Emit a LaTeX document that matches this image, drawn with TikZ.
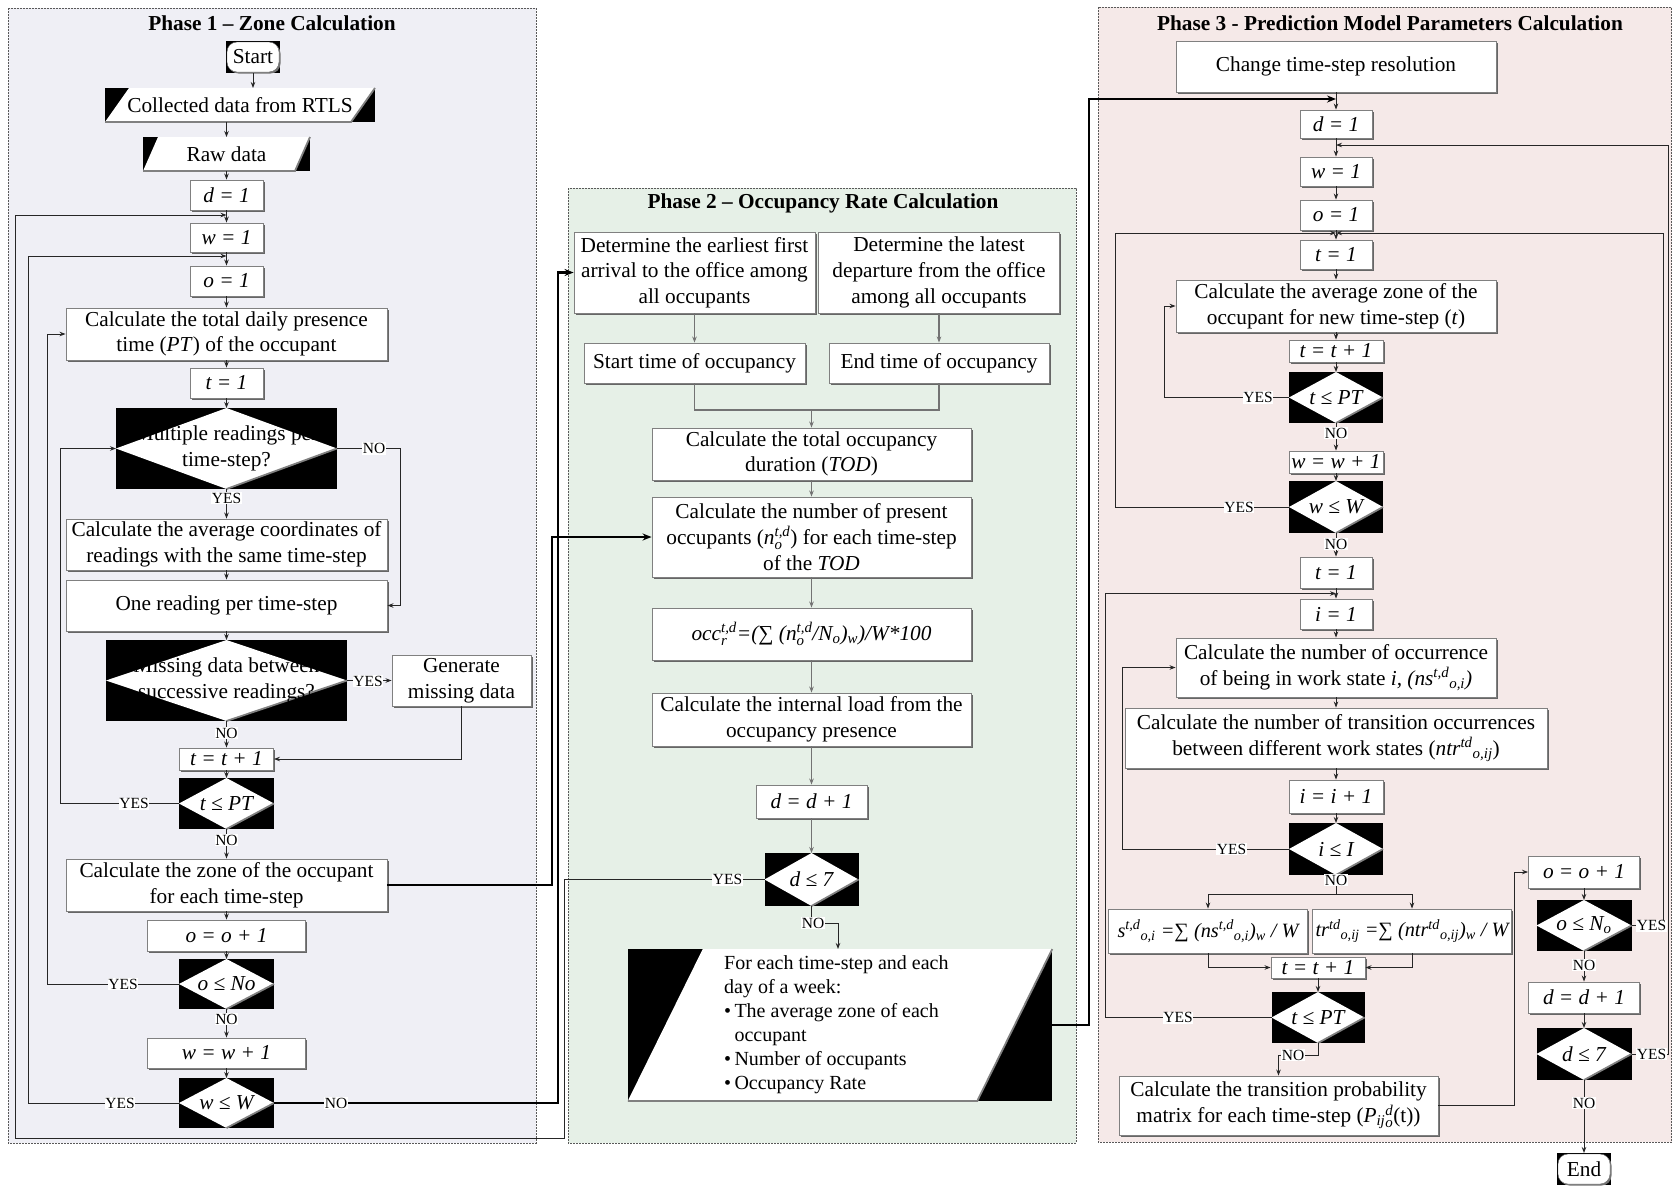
\documentclass[tikz,border=0pt]{standalone}
\usepackage{amsmath}
\usepackage{fontspec}
\setmainfont{Liberation Serif}
\usetikzlibrary{arrows.meta,shadows}

\definecolor{bgzone}{HTML}{EFEFF5}
\definecolor{bgrate}{HTML}{E6F0E7}
\definecolor{bgmodel}{HTML}{F5E9E8}

\newcommand{\bodyfont}{\fontsize{21.3}{25.6}\selectfont}
\newcommand{\lblfont}{\fontsize{15.5}{17}\selectfont}
% stacked and staggered index pairs
\newcommand{\supsub}[2]{\ensuremath{^{\textit{#1}}_{\textit{#2}}}}
\newcommand{\supthen}[2]{\ensuremath{^{\textit{#1}}{}_{\textit{#2}}}}

% decision: black frame, white diamond, text on top
\newcommand{\decide}[6]{%
  \node[blk, sz={#4}{#5}] (#1) at (#2,#3) {};
  \fill[white] (#1.west) -- (#1.north) -- (#1.east) -- (#1.south) -- cycle;
  \draw[black!50, line width=1.8pt] (#1.east) -- (#1.south);
  \node[dtext] (#1-t) at (#1.center) {#6};
}
% data (parallelogram) on a black frame
\newcommand{\slantbox}[7]{%
  \node[blk, sz={#4}{#5}] (#1) at (#2,#3) {};
  \fill[white] ([xshift=#6pt]#1.north west) -- (#1.north east) -- ([xshift=-#6pt]#1.south east) -- (#1.south west) -- cycle;
  \draw[black!50, line width=1.8pt] (#1.north east) -- ([xshift=-#6pt]#1.south east) -- (#1.south west);
  \node[dtext] (#1-t) at (#1.center) {#7};
}
% terminal: rounded box on a black frame
\newcommand{\termnode}[4]{%
  \node[blk, sz={54}{32}] (#1) at (#2,#3) {};
  \node[draw=black!60, fill=white, rounded corners=10pt, sz={52}{30}, font=\bodyfont, inner sep=0pt,
        drop shadow={shadow xshift=1.5pt,shadow yshift=-1.5pt,fill=black!55,opacity=1}] (#1-t) at (#1.center) {#4};
}

\begin{document}
\begin{tikzpicture}[x=1pt,y=-1pt,
  sz/.style 2 args={minimum width=#1pt, minimum height=#2pt},
  blk/.style={fill=black, inner sep=0pt, outer sep=0pt},
  dtext/.style={font=\bodyfont, align=center, inner sep=0pt},
  pbox/.style={draw=black!50, line width=0.9pt, fill=white, align=center, inner xsep=2pt, inner ysep=0pt,
               font=\bodyfont, drop shadow={shadow xshift=1.6pt, shadow yshift=-1.6pt, fill=black!60, opacity=1}},
  ln/.style={line width=0.9pt, draw=black!85},
  arr/.style={ln, -{Stealth[length=6pt, width=4.5pt]}},
  gln/.style={line width=1.1pt, draw=black!55},
  garr/.style={gln, -{Stealth[length=6pt, width=4.5pt]}},
  fat/.style={line width=2.2pt, draw=black, -{Stealth[length=9pt, width=7pt]}},
  lbl/.style={fill=white, inner sep=0.8pt, font=\lblfont},
  phase/.style={draw=black!65, dash pattern=on 2pt off 1pt, line width=0.8pt},
  ttl/.style={font=\bfseries\bodyfont}]

\useasboundingbox (0,0) rectangle (1674,1186);
\fill[white] (0,0) rectangle (1674,1186);

% phase panels
\fill[bgzone] (8,8) rectangle (536,1143);   \draw[phase] (8,8) rectangle (536,1143);
\fill[bgrate] (568,188) rectangle (1076,1143); \draw[phase] (568,188) rectangle (1076,1143);
\fill[bgmodel] (1098,7) rectangle (1671.5,1142); \draw[phase] (1098,7) rectangle (1671.5,1142);

\node[ttl] (title1) at (272,23) {Phase 1 – Zone Calculation};
\node[ttl] (title2) at (823,203) {Phase 2 – Occupancy Rate Calculation};
\node[ttl] (title3) at (1390,23) {Phase 3 - Prediction Model Parameters Calculation};

% ---------------- Phase 1 ----------------
\termnode{start}{253}{57}{Start}
\slantbox{coll}{240}{105}{270}{34}{24}{Collected data from RTLS}
\slantbox{raw}{226.5}{154}{167}{34}{15}{Raw data}
\node[pbox, sz={73}{30}] (d1) at (226.5,195) {\itshape d = 1};
\node[pbox, sz={73}{29}] (w1) at (226.5,237.5) {\itshape w = 1};
\node[pbox, sz={73}{30}] (o1) at (226.5,281) {\itshape o = 1};
\node[pbox, sz={321}{52}] (pt) at (226.5,334) {Calculate the total daily presence\\time (\textit{PT}) of the occupant};
\node[pbox, sz={73}{30}] (t1b) at (226.5,383) {\itshape t = 1};
\decide{q1}{226.5}{448.5}{221}{81}{Multiple readings per\\time-step?}
\node[pbox, sz={321}{51}] (avg) at (226.5,544.5) {Calculate the average coordinates of\\readings with the same time-step};
\node[pbox, sz={321}{51}] (one) at (226.5,605.5) {One reading per time-step};
\decide{q2}{226.5}{680.5}{241}{81}{Missing data between\\successive readings?}
\node[pbox, sz={139}{51}] (gen) at (461.5,680.5) {Generate\\missing data};
\node[pbox, sz={94}{22}] (tt1) at (226.5,759) {\itshape t = t + 1};
\decide{tp1}{226.5}{803.5}{95}{51}{\itshape t ≤ PT}
\node[pbox, sz={321}{52}] (zone) at (226.5,885) {Calculate the zone of the occupant\\for each time-step};
\node[pbox, sz={158}{31}] (oo1) at (226.5,935.5) {\itshape o = o + 1};
\decide{on1}{226.5}{984}{95}{50}{\itshape o ≤ No}
\node[pbox, sz={158}{30}] (ww1) at (226.5,1053) {\itshape w = w + 1};
\decide{wW1}{226.5}{1103}{95}{50}{\itshape w ≤ W}

% ---------------- Phase 2 ----------------
\node[pbox, sz={241}{81}] (early) at (694.5,272.5) {Determine the earliest first\\arrival to the office among\\all occupants};
\node[pbox, sz={241.5}{81}] (late) at (939,272.5) {Determine the latest\\departure from the office\\among all occupants};
\node[pbox, sz={221}{40}] (st) at (694.5,363) {Start time of occupancy};
\node[pbox, sz={220}{40}] (et) at (939,363) {End time of occupancy};
\node[pbox, sz={319}{52}] (tod) at (811.5,454) {Calculate the total occupancy\\duration (\textit{TOD})};
\node[pbox, sz={319}{80}] (npres) at (811.5,537) {Calculate the number of present\\occupants (\textit{n}\supsub{t,d}{o}) for each time-step\\of the \textit{TOD}};
\node[pbox, sz={319}{52}] (occ) at (811.5,634) {\itshape occ\supsub{t,d}{r}=(∑ (n\supsub{t,d}{o}/N\textsubscript{o})\textsubscript{w})/W*100};
\node[pbox, sz={319}{53}] (load) at (811.5,719.5) {Calculate the internal load from the\\occupancy presence};
\node[pbox, sz={111}{33}] (dd2) at (811.5,801.5) {\itshape d = d + 1};
\decide{p2d}{811.5}{879.5}{94}{53}{\itshape d ≤ 7}
\slantbox{out}{840}{1025}{424.5}{152}{75}{}
\node[font=\fontsize{20}{24}\selectfont, align=left, anchor=north west, inner sep=0pt] (outtxt) at (724,955)
  {For each time-step and each\\day of a week:\\•\,The average zone of each\\\hphantom{•\,}occupant\\•\,Number of occupants\\•\,Occupancy Rate};

% ---------------- Phase 3 ----------------
\node[pbox, sz={320}{51}] (chg) at (1336,66.5) {Change time-step resolution};
\node[pbox, sz={72}{28}] (d3) at (1336,124) {\itshape d = 1};
\node[pbox, sz={72}{29}] (w3) at (1336,171.5) {\itshape w = 1};
\node[pbox, sz={72}{30}] (o3) at (1336,215) {\itshape o = 1};
\node[pbox, sz={72}{29}] (t3a) at (1336,254.5) {\itshape t = 1};
\node[pbox, sz={320}{52}] (avz) at (1336,306) {Calculate the average zone of the\\occupant for new time-step (\textit{t})};
\node[pbox, sz={94}{22}] (tt3) at (1336,351) {\itshape t = t + 1};
\decide{tp3}{1336}{397.5}{94}{51}{\itshape t ≤ PT}
\node[pbox, sz={94}{22}] (ww3) at (1336,462) {\itshape w = w + 1};
\decide{wW3}{1336}{507}{94}{52}{\itshape w ≤ W}
\node[pbox, sz={72}{31}] (t3b) at (1336,572.5) {\itshape t = 1};
\node[pbox, sz={72}{30}] (i3) at (1336,614) {\itshape i = 1};
\node[pbox, sz={320}{59}] (ns) at (1336,667.5) {Calculate the number of occurrence\\of being in work state \textit{i, (ns\supthen{t,d}{o,i})}};
\node[pbox, sz={422}{60}] (ntr) at (1336,738) {Calculate the number of transition occurrences\\between different work states (\textit{ntr}\supthen{td}{o,ij})};
\node[pbox, sz={94}{33}] (ii3) at (1336,796.5) {\itshape i = i + 1};
\decide{iI}{1336}{849}{94}{52}{\itshape i ≤ I}
\node[pbox, sz={199}{44}, inner xsep=0pt, font=\fontsize{20.3}{24}\selectfont] (sb) at (1208,931) {\itshape s\supthen{t,d}{o,i} =∑ (ns\supthen{t,d}{o,i})\textsubscript{w} / W};
\node[pbox, sz={199.5}{44}, inner xsep=0pt, font=\fontsize{20.3}{24}\selectfont] (trb) at (1412,931) {\itshape tr\supthen{td}{o,ij} =∑ (ntr\supthen{td}{o,ij})\textsubscript{w} / W};
\node[pbox, sz={94}{21}] (tt4) at (1318,967.5) {\itshape t = t + 1};
\decide{tp4}{1318}{1017.5}{93}{51}{\itshape t ≤ PT}
\node[pbox, sz={319}{59}] (tprob) at (1278.5,1105.5) {Calculate the transition probability\\matrix for each time-step (\textit{P}\textsubscript{\textit{ij}}\supsub{d}{o}(t))};
\node[pbox, sz={111}{32}] (oo3) at (1584,872) {\itshape o = o + 1};
\decide{on3}{1584}{925.5}{95}{51}{\itshape o ≤ N\textsubscript{o}}
\node[pbox, sz={111}{31}] (dd3) at (1584,997.5) {\itshape d = d + 1};
\decide{d73}{1584}{1054}{95}{52}{\itshape d ≤ 7}
\termnode{endn}{1584}{1169}{End}

% junction points on the vertical flow lines
\coordinate (jd) at (226.5,215);
\coordinate (jo) at (226.5,256);
\coordinate (jm) at (811.5,410);
\coordinate (jn) at (838,923);
\coordinate (jp3) at (1336,99);
\coordinate (jw) at (1336,145);
\coordinate (jt) at (1336,233);
\coordinate (ji) at (1336,593.5);
\coordinate (js) at (1336,894);
\coordinate (jq) at (1318,1055);

% ---------------- connectors, phase 1 ----------------
\draw[arr] (start.south) -- (start.south |- coll.north);
\draw[arr] (coll.south -| raw.center) -- (raw.north);
\draw[arr] (raw) -- (d1);
\draw[arr] (d1) -- (w1);
\draw[arr] (w1) -- (o1);
\draw[arr] (o1) -- (pt);
\draw[arr] (pt) -- (t1b);
\draw[arr] (t1b) -- (q1);
\draw[arr] (q1) -- (avg);
\draw[arr] (avg) -- (one);
\draw[arr] (one) -- (q2);
\draw[arr] (q2) -- (tt1);
\draw[arr] (tt1) -- (tp1);
\draw[arr] (tp1) -- (zone);
\draw[arr] (zone) -- (oo1);
\draw[arr] (oo1) -- (on1);
\draw[arr] (on1) -- (ww1);
\draw[arr] (ww1) -- (wW1);
\draw[arr] (q1.east) -- (400,448.5) |- (one.east);
\draw[arr] (q2.east) -- (gen.west);
\draw[arr] (gen.south) |- (tt1.east);
\draw[arr] (tp1.west) -- (60,803.5) |- (q1.west);
\draw[arr] (on1.west) -- (47.5,984) |- (pt.west);
\draw[arr] (wW1.west) -- (28,1103) |- (jo);
\draw[arr] (p2d.west) -- (564,879.5) |- (15,1138) |- (jd);

% links between phases
\draw[fat] (zone.east) -- (552,885) |- (npres.west);
\draw[fat] (wW1.east) -- (558,1103) |- (early.west);
\draw[fat] (out.east) -- (1089,1025) |- (jp3);

% ---------------- connectors, phase 2 ----------------
\draw[garr] (early) -- (st);
\draw[garr] (late) -- (et);
\draw[gln] (st.south) |- (jm) -| (et.south);
\draw[garr] (jm) -- (tod.north);
\draw[garr] (tod) -- (npres);
\draw[garr] (npres) -- (occ);
\draw[garr] (occ) -- (load);
\draw[garr] (load) -- (dd2);
\draw[garr] (dd2) -- (p2d);
\draw[arr] (p2d.south) |- (jn) -- (jn |- out.north);

% ---------------- connectors, phase 3 ----------------
\draw[arr] (chg) -- (d3);
\draw[arr] (d3) -- (w3);
\draw[arr] (w3) -- (o3);
\draw[arr] (o3) -- (t3a);
\draw[arr] (t3a) -- (avz);
\draw[arr] (avz) -- (tt3);
\draw[arr] (tt3) -- (tp3);
\draw[arr] (tp3) -- (ww3);
\draw[arr] (ww3) -- (wW3);
\draw[arr] (wW3) -- (t3b);
\draw[arr] (t3b) -- (i3);
\draw[arr] (i3) -- (ns);
\draw[arr] (ns) -- (ntr);
\draw[arr] (ntr) -- (ii3);
\draw[arr] (ii3) -- (iI);
\draw[arr] (tp3.west) -- (1164.5,397.5) |- (avz.west);
\draw[arr] (wW3.west) -- (1115,507) |- (jt);
\draw[arr] (on3.east) -- (1663,925.5) |- (jt);
\draw[arr] (d73.east) -- (1668,1054) |- (jw);
\draw[arr] (iI.west) -- (1122,849) |- (ns.west);
\draw[ln] (iI.south) -- (js);
\draw[arr] (js) -| (sb.north);
\draw[arr] (js) -| (trb.north);
\draw[arr] (sb.south) |- (tt4.west);
\draw[arr] (trb.south) |- (tt4.east);
\draw[arr] (tt4) -- (tp4);
\draw[arr] (tp4.west) -- (1105,1017.5) |- (ji);
\draw[arr] (tp4.south) -- (jq) -| (tprob.north);
\draw[arr] (tprob.east) -- (1514,1105.5) |- (oo3.west);
\draw[arr] (oo3) -- (on3);
\draw[arr] (on3) -- (dd3);
\draw[arr] (dd3) -- (d73);
\draw[arr] (d73) -- (endn);

% ---------------- branch labels ----------------
\node[lbl] (l1) at (374,448.5) {NO};
\node[lbl] (l2) at (226.5,498) {YES};
\node[lbl] (l3) at (368,681) {YES};
\node[lbl] (l4) at (226.5,733) {NO};
\node[lbl] (l5) at (134,803.5) {YES};
\node[lbl] (l6) at (226.5,840) {NO};
\node[lbl] (l7) at (123,984) {YES};
\node[lbl] (l8) at (226.5,1019) {NO};
\node[lbl] (l9) at (120,1103) {YES};
\node[lbl] (l10) at (336,1103) {NO};
\node[lbl] (l11) at (727.5,879.5) {YES};
\node[lbl] (l12) at (813,923) {NO};
\node[lbl] (l13) at (1258,397.5) {YES};
\node[lbl] (l14) at (1336,433) {NO};
\node[lbl] (l15) at (1239,507) {YES};
\node[lbl] (l16) at (1336,544) {NO};
\node[lbl] (l17) at (1231.5,849) {YES};
\node[lbl] (l18) at (1336,880) {NO};
\node[lbl] (l19) at (1178,1017.5) {YES};
\node[lbl] (l20) at (1293,1055) {NO};
\node[lbl] (l21) at (1651.6,925.5) {YES};
\node[lbl] (l22) at (1584,965) {NO};
\node[lbl] (l23) at (1651.6,1054) {YES};
\node[lbl] (l24) at (1584,1103) {NO};
\end{tikzpicture}
\end{document}
